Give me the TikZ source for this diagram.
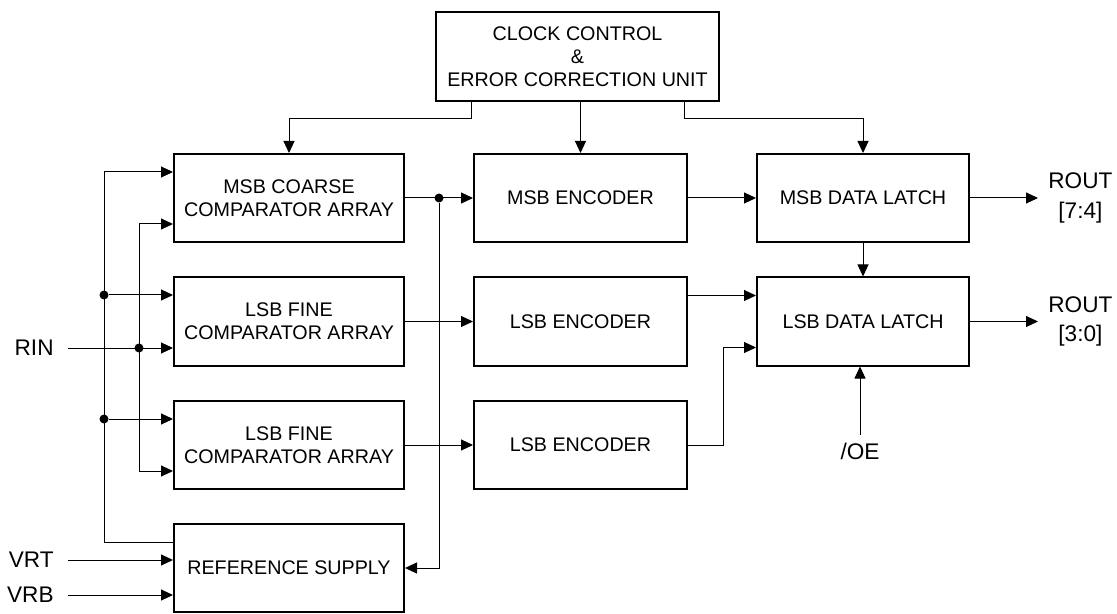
\documentclass[tikz,border=0pt]{standalone}
\usepackage{fontspec}
\setmainfont{Liberation Sans}
\usetikzlibrary{arrows.meta,calc}
\tikzset{
%Define standard arrow tip
>={Triangle[length=6pt,width=5.5pt]},
%Define styles for blocks, wires and labels
block/.style={draw, line width=1pt, minimum height=44pt, align=center, font=\fontsize{9.85}{11.5}\selectfont},
wire/.style={line width=0.5pt},
junction/.style={circle, fill, inner sep=0pt, minimum size=4.5pt},
extlabel/.style={font=\fontsize{11.3}{14.8}\selectfont, align=center},
}
\begin{document}
\begin{tikzpicture}[x=0.5pt,y=-0.5pt]
\useasboundingbox (0,0) rectangle (1117,614);
% Draw blocks
\node[block, minimum width=141.5pt, minimum height=44.5pt] (clock) at (577.5,56.5) {CLOCK CONTROL\\\&\\ERROR CORRECTION UNIT};
\node[block, minimum width=115pt] (msbcmp) at (289,198) {MSB COARSE\\COMPARATOR ARRAY};
\node[block, minimum width=115pt] (lsbcmp1) at (289,321.5) {LSB FINE\\COMPARATOR ARRAY};
\node[block, minimum width=115pt] (lsbcmp2) at (289,445) {LSB FINE\\COMPARATOR ARRAY};
\node[block, minimum width=115pt] (refsup) at (289,568) {REFERENCE SUPPLY};
\node[block, minimum width=106.5pt] (msbenc) at (580.5,198) {MSB ENCODER};
\node[block, minimum width=106.5pt] (lsbenc1) at (580.5,321.5) {LSB ENCODER};
\node[block, minimum width=106.5pt] (lsbenc2) at (580.5,445) {LSB ENCODER};
\node[block, minimum width=106pt] (msblat) at (863,198) {MSB DATA LATCH};
\node[block, minimum width=106pt] (lsblat) at (863,321.5) {LSB DATA LATCH};
% Inputs and outputs
\node[extlabel, anchor=east, inner xsep=7pt] (rin) at (68,348) {RIN};
\node[extlabel, anchor=east, inner xsep=7pt] (vrt) at (68,560) {VRT};
\node[extlabel, anchor=east, inner xsep=7pt] (vrb) at (68,595) {VRB};
\node[extlabel, anchor=west, inner xsep=5pt] (rout1) at (1038,198) {ROUT\\{[7:4]}};
\node[extlabel, anchor=west, inner xsep=5pt] (rout2) at (1038,321.5) {ROUT\\{[3:0]}};
\node[extlabel, anchor=north, inner ysep=4pt] (oe) at (860,435) {/OE};
% Clock control lines
\draw[wire,->] ($(clock.south west)+(36,0)$) -- ++(0,17) -| (msbcmp.north);
\draw[wire,->] (clock.south -| msbenc.north) -- (msbenc.north);
\draw[wire,->] ($(clock.south east)+(-36,0)$) -- ++(0,17) -| (msblat.north);
% Left buses
\coordinate (otop) at (104,172);
\coordinate (obot) at (104,542);
\coordinate (itop) at (139,224);
\coordinate (ibot) at (139,471);
\draw[wire,->] (obot -| refsup.west) -- (obot) -- (otop) -- (otop -| msbcmp.west);
\draw[wire,<->] (itop -| msbcmp.west) -- (itop) -- (ibot) -- (ibot -| lsbcmp2.west);
\node[junction] (o1) at (104,295) {};
\node[junction] (o2) at (104,419) {};
\node[junction] (i1) at (139,348) {};
\draw[wire,->] (o1) -- (o1 -| lsbcmp1.west);
\draw[wire,->] (o2) -- (o2 -| lsbcmp2.west);
\draw[wire,->] (rin.east) -- (rin.east -| lsbcmp1.west);
\draw[wire,->] (vrt.east) -- (vrt.east -| refsup.west);
\draw[wire,->] (vrb.east) -- (vrb.east -| refsup.west);
% Data path
\node[junction] (jm) at (439,198) {};
\draw[wire,->] (msbcmp.east) -- (msbenc.west);
\draw[wire,->] (jm) |- (refsup.east);
\draw[wire,->] (lsbcmp1.east) -- (lsbenc1.west);
\draw[wire,->] (lsbcmp2.east) -- (lsbenc2.west);
\draw[wire,->] (msbenc.east) -- (msblat.west);
\draw[wire,->] ([yshift=13pt]lsbenc1.east) -- ([yshift=13pt]lsblat.west);
\draw[wire,->] (lsbenc2.east) -- ++(35,0) |- ([yshift=-13pt]lsblat.west);
\draw[wire,->] (msblat.south) -- (lsblat.north);
\draw[wire,->] (oe.north) -- (oe.north |- lsblat.south);
\draw[wire,->] (msblat.east) -- (rout1.west);
\draw[wire,->] (lsblat.east) -- (rout2.west);
\end{tikzpicture}
\end{document}
